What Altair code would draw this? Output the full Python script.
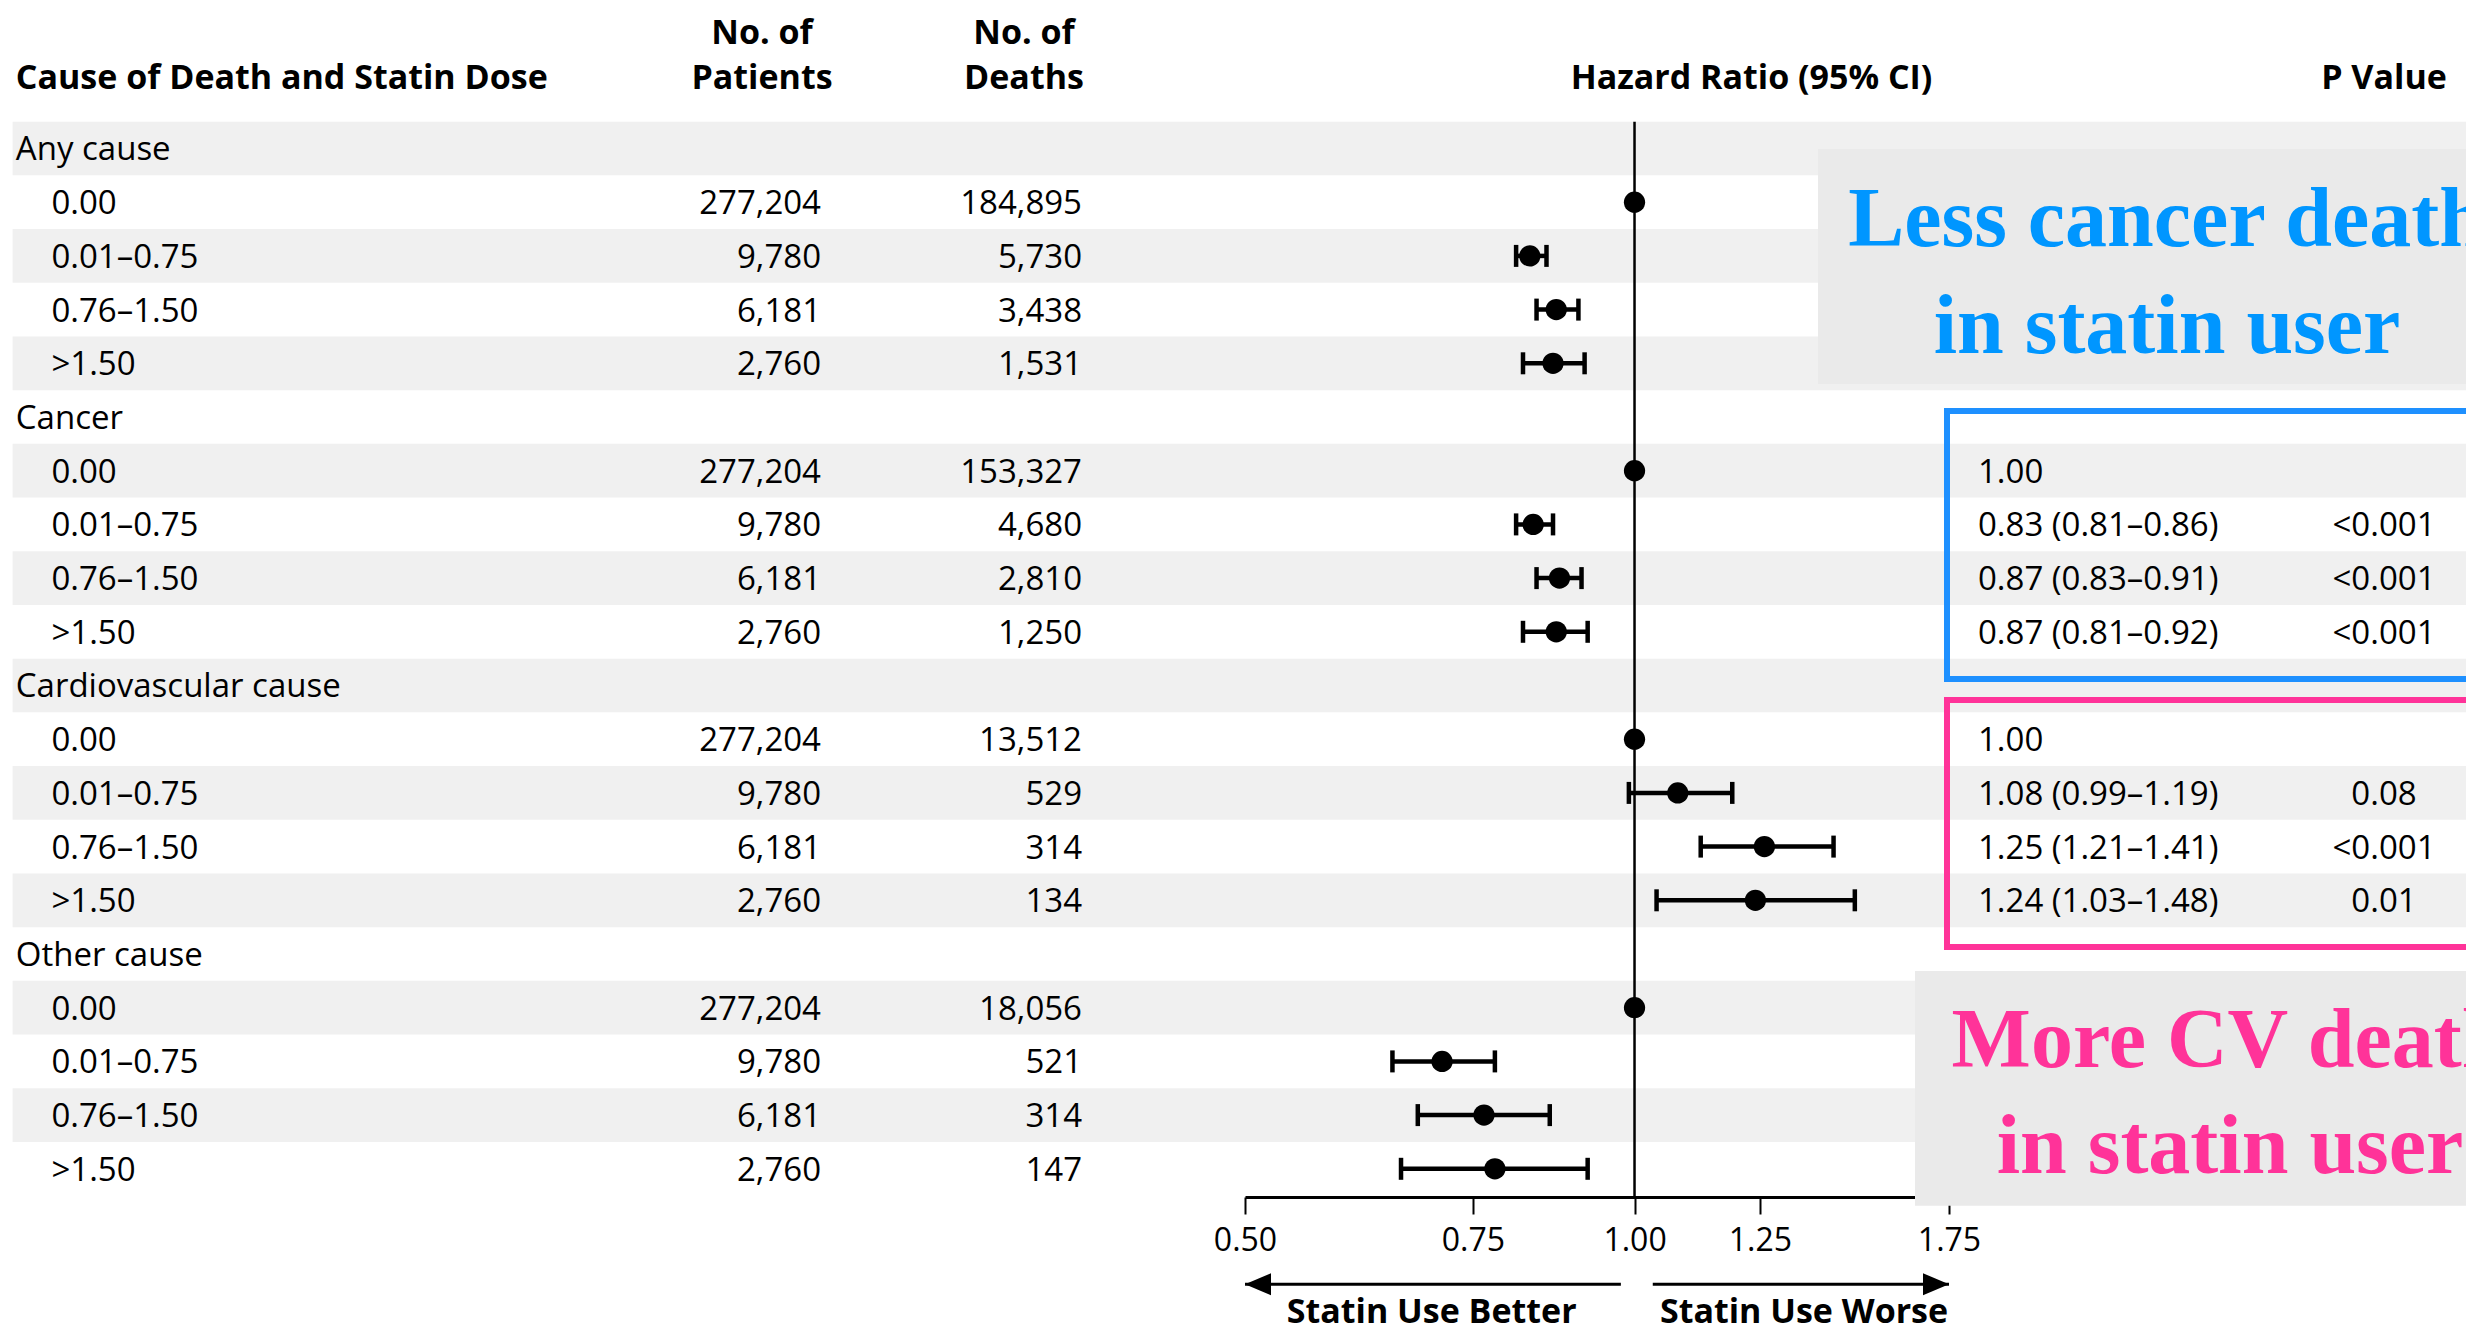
import altair as alt
import pandas as pd

# ---------------- data ----------------
groups = ["Any cause", "Cancer", "Cardiovascular cause", "Other cause"]
doses = ["0.00", "0.01–0.75", "0.76–1.50", ">1.50"]
patients = [277204, 9780, 6181, 2760]

deaths_any = [184895, 5730, 3438, 1531]
deaths_cancer = [153327, 4680, 2810, 1250]
deaths_cv = [13512, 529, 314, 134]
deaths_other = [18056, 521, 314, 147]

hr_any = [1.00, 0.83, 0.87, 0.865]
lo_any = [None, 0.81, 0.84, 0.82]
hi_any = [None, 0.855, 0.905, 0.915]
hr_cancer = [1.00, 0.835, 0.875, 0.87]
lo_cancer = [None, 0.81, 0.84, 0.82]
hi_cancer = [None, 0.865, 0.91, 0.92]
hr_cv = [1.00, 1.08, 1.26, 1.24]
lo_cv = [None, 0.99, 1.125, 1.04]
hi_cv = [None, 1.19, 1.425, 1.48]
hr_other = [1.00, 0.71, 0.765, 0.78]
lo_other = [None, 0.65, 0.68, 0.66]
hi_other = [None, 0.78, 0.86, 0.92]

hrtxt_cancer = ["1.00", "0.83 (0.81–0.86)", "0.87 (0.83–0.91)", "0.87 (0.81–0.92)"]
p_cancer = ["", "<0.001", "<0.001", "<0.001"]
hrtxt_cv = ["1.00", "1.08 (0.99–1.19)", "1.25 (1.21–1.41)", "1.24 (1.03–1.48)"]
p_cv = ["", "0.08", "<0.001", "0.01"]
blank = ["", "", "", ""]

x_ticks = [0.50, 0.75, 1.00, 1.25, 1.75]

# ---------------- build table ----------------
per_group = [
    (deaths_any, hr_any, lo_any, hi_any, blank, blank),
    (deaths_cancer, hr_cancer, lo_cancer, hi_cancer, hrtxt_cancer, p_cancer),
    (deaths_cv, hr_cv, lo_cv, hi_cv, hrtxt_cv, p_cv),
    (deaths_other, hr_other, lo_other, hi_other, blank, blank),
]
recs = []
r = 0
for g, (dth, hr, lo, hi, ht, pv) in zip(groups, per_group):
    recs.append(dict(row=r, label=g, kind="group", patients=None, deaths=None,
                     hr=None, lo=None, hi=None, hrtext="", p=""))
    r += 1
    for i, d in enumerate(doses):
        recs.append(dict(row=r, label=d, kind="dose", patients=patients[i], deaths=dth[i],
                         hr=hr[i], lo=lo[i], hi=hi[i], hrtext=ht[i], p=pv[i]))
        r += 1
df = pd.DataFrame(recs)
stripes = pd.DataFrame({"row": list(range(0, 20, 2))})
one = pd.DataFrame({"k": [0]})

# ---------------- scales & axis ----------------
X = alt.Scale(type="log", domain=[0.5, 1.75], range=[1237, 1941], nice=False)
Y = alt.Scale(domain=[0, 19], range=[140.5, 1160.8], nice=False, zero=False)

FONT = "Open Sans"
AX = alt.Axis(values=x_ticks, format=".2f", title=None, grid=False,
              domainColor="black", domainWidth=3,
              tickColor="black", tickWidth=2, tickSize=17,
              labelFont=FONT, labelFontSize=32, labelColor="black",
              labelPadding=11, labelFlush=False, labelOverlap=False)

TXT = dict(font=FONT, fontSize=33, color="black", baseline="alphabetic")
HDR = dict(font=FONT, fontSize=34, fontWeight="bold", color="black", baseline="alphabetic")

base = alt.Chart(df)

def yrow():
    return alt.Y("row:Q", scale=Y, axis=None)

def xf(field):
    return alt.X(field, scale=X, axis=AX)

def xd(v):
    return alt.XDatum(v, scale=X, axis=AX)

def yd(v):
    return alt.YDatum(v, scale=Y, axis=None)

layers = []

# zebra stripes
layers.append(
    alt.Chart(stripes).transform_calculate(top="datum.row - 0.5", bot="datum.row + 0.5")
    .mark_rect(color="#f0f0f0")
    .encode(x=alt.value(4.6), x2=alt.value(2600),
            y=alt.Y("top:Q", scale=Y, axis=None), y2="bot:Q")
)

# table texts
layers.append(base.transform_filter("datum.kind == 'group'")
              .mark_text(align="left", dy=11.5, **TXT)
              .encode(x=alt.value(7.8), y=yrow(), text="label:N"))
layers.append(base.transform_filter("datum.kind == 'dose'")
              .mark_text(align="left", dy=12, **TXT)
              .encode(x=alt.value(43.4), y=yrow(), text="label:N"))
layers.append(base.transform_filter("isValid(datum.patients)")
              .mark_text(align="right", dy=12, **TXT)
              .encode(x=alt.value(813), y=yrow(), text=alt.Text("patients:Q", format=",")))
layers.append(base.transform_filter("isValid(datum.deaths)")
              .mark_text(align="right", dy=12, **TXT)
              .encode(x=alt.value(1074), y=yrow(), text=alt.Text("deaths:Q", format=",")))
layers.append(base.transform_filter("datum.hrtext != ''")
              .mark_text(align="left", dy=12, **TXT)
              .encode(x=alt.value(1970), y=yrow(), text="hrtext:N"))
layers.append(base.transform_filter("datum.p != ''")
              .mark_text(align="center", dy=12, **TXT)
              .encode(x=alt.value(2376), y=yrow(), text="p:N"))

# headers
def header(text, x, yr, align):
    return (alt.Chart(one).mark_text(text=text, align=align, **HDR)
            .encode(x=alt.value(x), y=yd(yr)))

layers += [
    header("Cause of Death and Statin Dose", 7.8, -1.102, "left"),
    header("No. of", 754, -1.937, "center"),
    header("Patients", 754, -1.102, "center"),
    header("No. of", 1016, -1.937, "center"),
    header("Deaths", 1016, -1.102, "center"),
    header("Hazard Ratio (95% CI)", 1743.5, -1.102, "center"),
    header("P Value", 2376, -1.102, "center"),
]

# reference line at 1.00
layers.append(
    alt.Chart(one).mark_rule(color="black", strokeWidth=2.5)
    .encode(x=xd(1.0), y=yd(-0.5), y2=alt.Y2Datum(19.53))
)

# CI bars
layers.append(base.transform_filter("isValid(datum.lo)")
              .mark_rule(color="black", strokeWidth=4.5)
              .encode(x=xf("lo:Q"), x2="hi:Q", y=yrow()))
layers.append(base.transform_filter("isValid(datum.lo)")
              .transform_fold(["lo", "hi"], as_=["end", "val"])
              .mark_point(shape="M0,-1L0,1", size=484, strokeWidth=4.5, filled=False,
                          opacity=1, color="black")
              .encode(x=xf("val:Q"), y=yrow()))

# point estimates
layers.append(base.transform_filter("isValid(datum.hr)")
              .mark_circle(size=452, opacity=1, color="black")
              .encode(x=xf("hr:Q"), y=yrow()))

# direction arrows and labels
ARROW_Y = 21.15
LAB_Y = 21.88
layers.append(alt.Chart(one).mark_rule(color="black", strokeWidth=3)
              .encode(x=xd(0.5), x2=alt.X2Datum(0.976), y=yd(ARROW_Y)))
layers.append(alt.Chart(one).mark_rule(color="black", strokeWidth=3)
              .encode(x=xd(1.033), x2=alt.X2Datum(1.75), y=yd(ARROW_Y)))
layers.append(alt.Chart(one).mark_point(shape="M0,0L1,-0.42L1,0.42Z", size=2704, filled=True,
                                        opacity=1, color="black", strokeWidth=0)
              .encode(x=xd(0.5), y=yd(ARROW_Y)))
layers.append(alt.Chart(one).mark_point(shape="M0,0L-1,-0.42L-1,0.42Z", size=2704, filled=True,
                                        opacity=1, color="black", strokeWidth=0)
              .encode(x=xd(1.75), y=yd(ARROW_Y)))
layers.append(alt.Chart(one).mark_text(text="Statin Use Better", align="center", **HDR)
              .encode(x=xd(0.697), y=yd(LAB_Y)))
layers.append(alt.Chart(one).mark_text(text="Statin Use Worse", align="center", **HDR)
              .encode(x=xd(1.352), y=yd(LAB_Y)))

# hand-drawn highlight frames
def frame(y1, y2, color):
    return (alt.Chart(one).mark_rect(filled=False, stroke=color, strokeWidth=6)
            .encode(x=alt.value(1939), x2=alt.value(2700),
                    y=yd(y1), y2=alt.Y2Datum(y2)))

layers.append(frame(4.89, 9.88, "#1e90ff"))
layers.append(frame(10.27, 14.87, "#ff3399"))

# annotation boxes
def box(x, y1, y2):
    return (alt.Chart(one).mark_rect(color="#eaeaea")
            .encode(x=alt.value(x), x2=alt.value(2700),
                    y=yd(y1), y2=alt.Y2Datum(y2)))

BIG = dict(font="Liberation Serif", fontSize=84, fontWeight="bold", baseline="alphabetic",
           align="center")

def big(text, x, yr, color):
    return (alt.Chart(one).mark_text(text=text, color=color, **BIG)
            .encode(x=alt.value(x), y=yd(yr)))

layers += [
    box(1810, 0.01, 4.385),
    big("Less cancer death", 2159, 1.81, "#0096ff"),
    big("in statin user", 2159, 3.80, "#0096ff"),
    box(1907, 15.316, 19.687),
    big("More CV death", 2222, 17.10, "#ff3399"),
    big("in statin user", 2222, 19.08, "#ff3399"),
]

chart = (
    alt.layer(*layers)
    .properties(width=2458, height=1189,
                autosize=alt.AutoSizeParams(type="none"),
                padding={"left": 0, "top": 0, "right": 0, "bottom": 137},
                background="white")
    .configure_view(stroke=None)
)

chart.save("out.html", embed_options={"renderer": "svg", "actions": False})
